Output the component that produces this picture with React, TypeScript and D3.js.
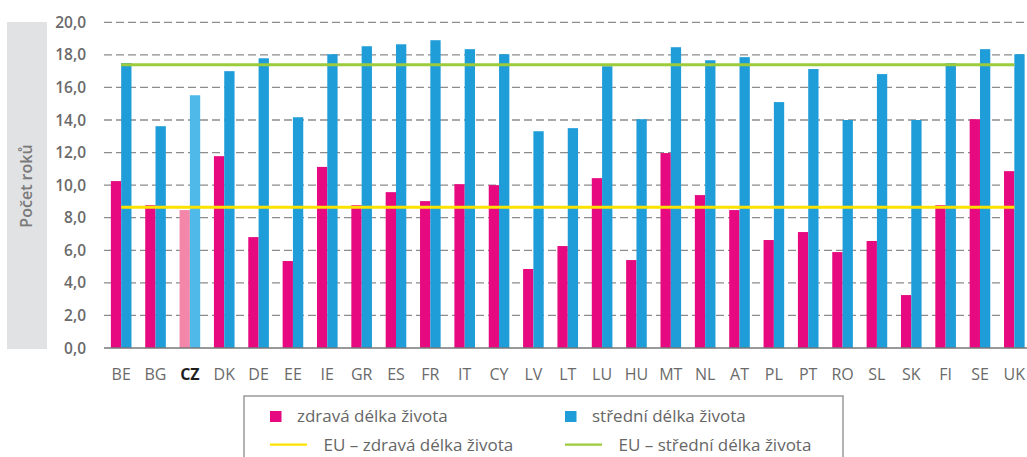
import React from "react";
import * as d3 from "d3";

const countries = ["BE","BG","CZ","DK","DE","EE","IE","GR","ES","FR","IT","CY","LV","LT","LU","HU","MT","NL","AT","PL","PT","RO","SL","SK","FI","SE","UK"];
const healthyYears = [10.25, 8.77, 8.47, 11.78, 6.81, 5.34, 11.12, 8.77, 9.57, 9.02, 10.06, 10.0, 4.85, 6.26, 10.43, 5.4, 11.97, 9.39, 8.47, 6.63, 7.12, 5.89, 6.57, 3.25, 8.77, 14.05, 10.86];
const lifeYears = [17.5, 13.62, 15.52, 17.0, 17.79, 14.17, 18.04, 18.53, 18.65, 18.9, 18.35, 18.04, 13.31, 13.5, 17.3, 14.05, 18.47, 17.67, 17.86, 15.1, 17.13, 14.0, 16.82, 14.0, 17.49, 18.35, 18.04];
const euHealthy = 8.65;
const euLife = 17.4;
const yTicks = [0, 2, 4, 6, 8, 10, 12, 14, 16, 18, 20];
const seriesKeys = ["healthy", "life"];
const highlight = "CZ";
const legendLabels = ["zdravá délka života", "střední délka života", "EU – zdravá délka života", "EU – střední délka života"];

const W = 1027, H = 457;
const FONT = "'Open Sans', 'Noto Sans', sans-serif";
const PINK = "#e6097f", BLUE = "#1f9dd9", PINK_L = "#f387aa", BLUE_L = "#4fb9ea";
const YELLOW = "#fde100", GREEN = "#9ccb3b";

export default function App() {
  const x = d3.scaleBand<string>().domain(countries).range([104, 1031.5]).paddingInner(0.4).paddingOuter(0.2);
  const xs = d3.scaleBand<string>().domain(seriesKeys).range([0, x.bandwidth()]);
  const y = d3.scaleLinear().domain([0, 20]).range([348, 22.3]);
  const fmt = (v: number) => d3.format(".1f")(v).replace(".", ",");
  const lineX0 = (x(countries[0]) ?? 0) + x.bandwidth() / 2;
  const lineX1 = (x(countries[countries.length - 1]) ?? 0) + x.bandwidth() / 2;

  const legendItems = [
    { label: legendLabels[0], kind: "rect", color: PINK, col: 0, row: 0 },
    { label: legendLabels[1], kind: "rect", color: BLUE, col: 1, row: 0 },
    { label: legendLabels[2], kind: "line", color: YELLOW, col: 0, row: 1 },
    { label: legendLabels[3], kind: "line", color: GREEN, col: 1, row: 1 },
  ];
  const colX = [270, 565];

  return (
    <svg width={W} height={H} style={{ position: "absolute", left: 0, top: 0, background: "#fff" }} fontFamily={FONT}>
      <rect x={7} y={22} width={40} height={327} fill="#e1e2e4" />
      <text transform={`translate(32,186) rotate(-90)`} textAnchor="middle" fontSize={16} fontWeight={600} fill="#7a7a7a">Počet roků</text>
      {yTicks.map((t) => (
        <g key={t}>
          {t > 0 && (
            <line x1={104} x2={W} y1={y(t)} y2={y(t)} stroke="#8c8c8c" strokeWidth={1.3} strokeDasharray="8,4" />
          )}
          <text x={86} y={y(t)} dy="0.36em" textAnchor="end" fontSize={15.5} fontWeight={600} fill="#6a6a6a">{fmt(t)}</text>
        </g>
      ))}
      {countries.map((c, i) => {
        const bx = x(c) ?? 0;
        const hl = c === highlight;
        return (
          <g key={c}>
            <rect x={bx + (xs("healthy") ?? 0)} y={y(healthyYears[i])} width={xs.bandwidth()} height={y(0) - y(healthyYears[i])} fill={hl ? PINK_L : PINK} />
            <rect x={bx + (xs("life") ?? 0)} y={y(lifeYears[i])} width={xs.bandwidth()} height={y(0) - y(lifeYears[i])} fill={hl ? BLUE_L : BLUE} />
            <text x={bx + x.bandwidth() / 2} y={380} textAnchor="middle" fontSize={16} fontWeight={hl ? 700 : 400} fill={hl ? "#1e1e1e" : "#6a6a6a"}>{c}</text>
          </g>
        );
      })}
      <line x1={104} x2={W} y1={y(0)} y2={y(0)} stroke="#777" strokeWidth={1.5} />
      <line x1={lineX0} x2={lineX1} y1={y(euHealthy)} y2={y(euHealthy)} stroke={YELLOW} strokeWidth={3} />
      <line x1={lineX0} x2={lineX1} y1={y(euLife)} y2={y(euLife)} stroke={GREEN} strokeWidth={3} />
      <rect x={244} y={396} width={599} height={80} fill="none" stroke="#9a9a9a" strokeWidth={1.5} />
      {legendItems.map((it) => {
        const lx = colX[it.col];
        const by = it.row === 0 ? 422 : 451;
        return (
          <g key={it.label}>
            {it.kind === "rect" ? (
              <rect x={lx} y={411} width={11.5} height={11} fill={it.color} />
            ) : (
              <line x1={lx} x2={lx + 37} y1={444.7} y2={444.7} stroke={it.color} strokeWidth={2.2} />
            )}
            <text x={it.kind === "rect" ? lx + 27 : lx + 53.5} y={by} fontSize={17} fill="#666">{it.label}</text>
          </g>
        );
      })}
    </svg>
  );
}
